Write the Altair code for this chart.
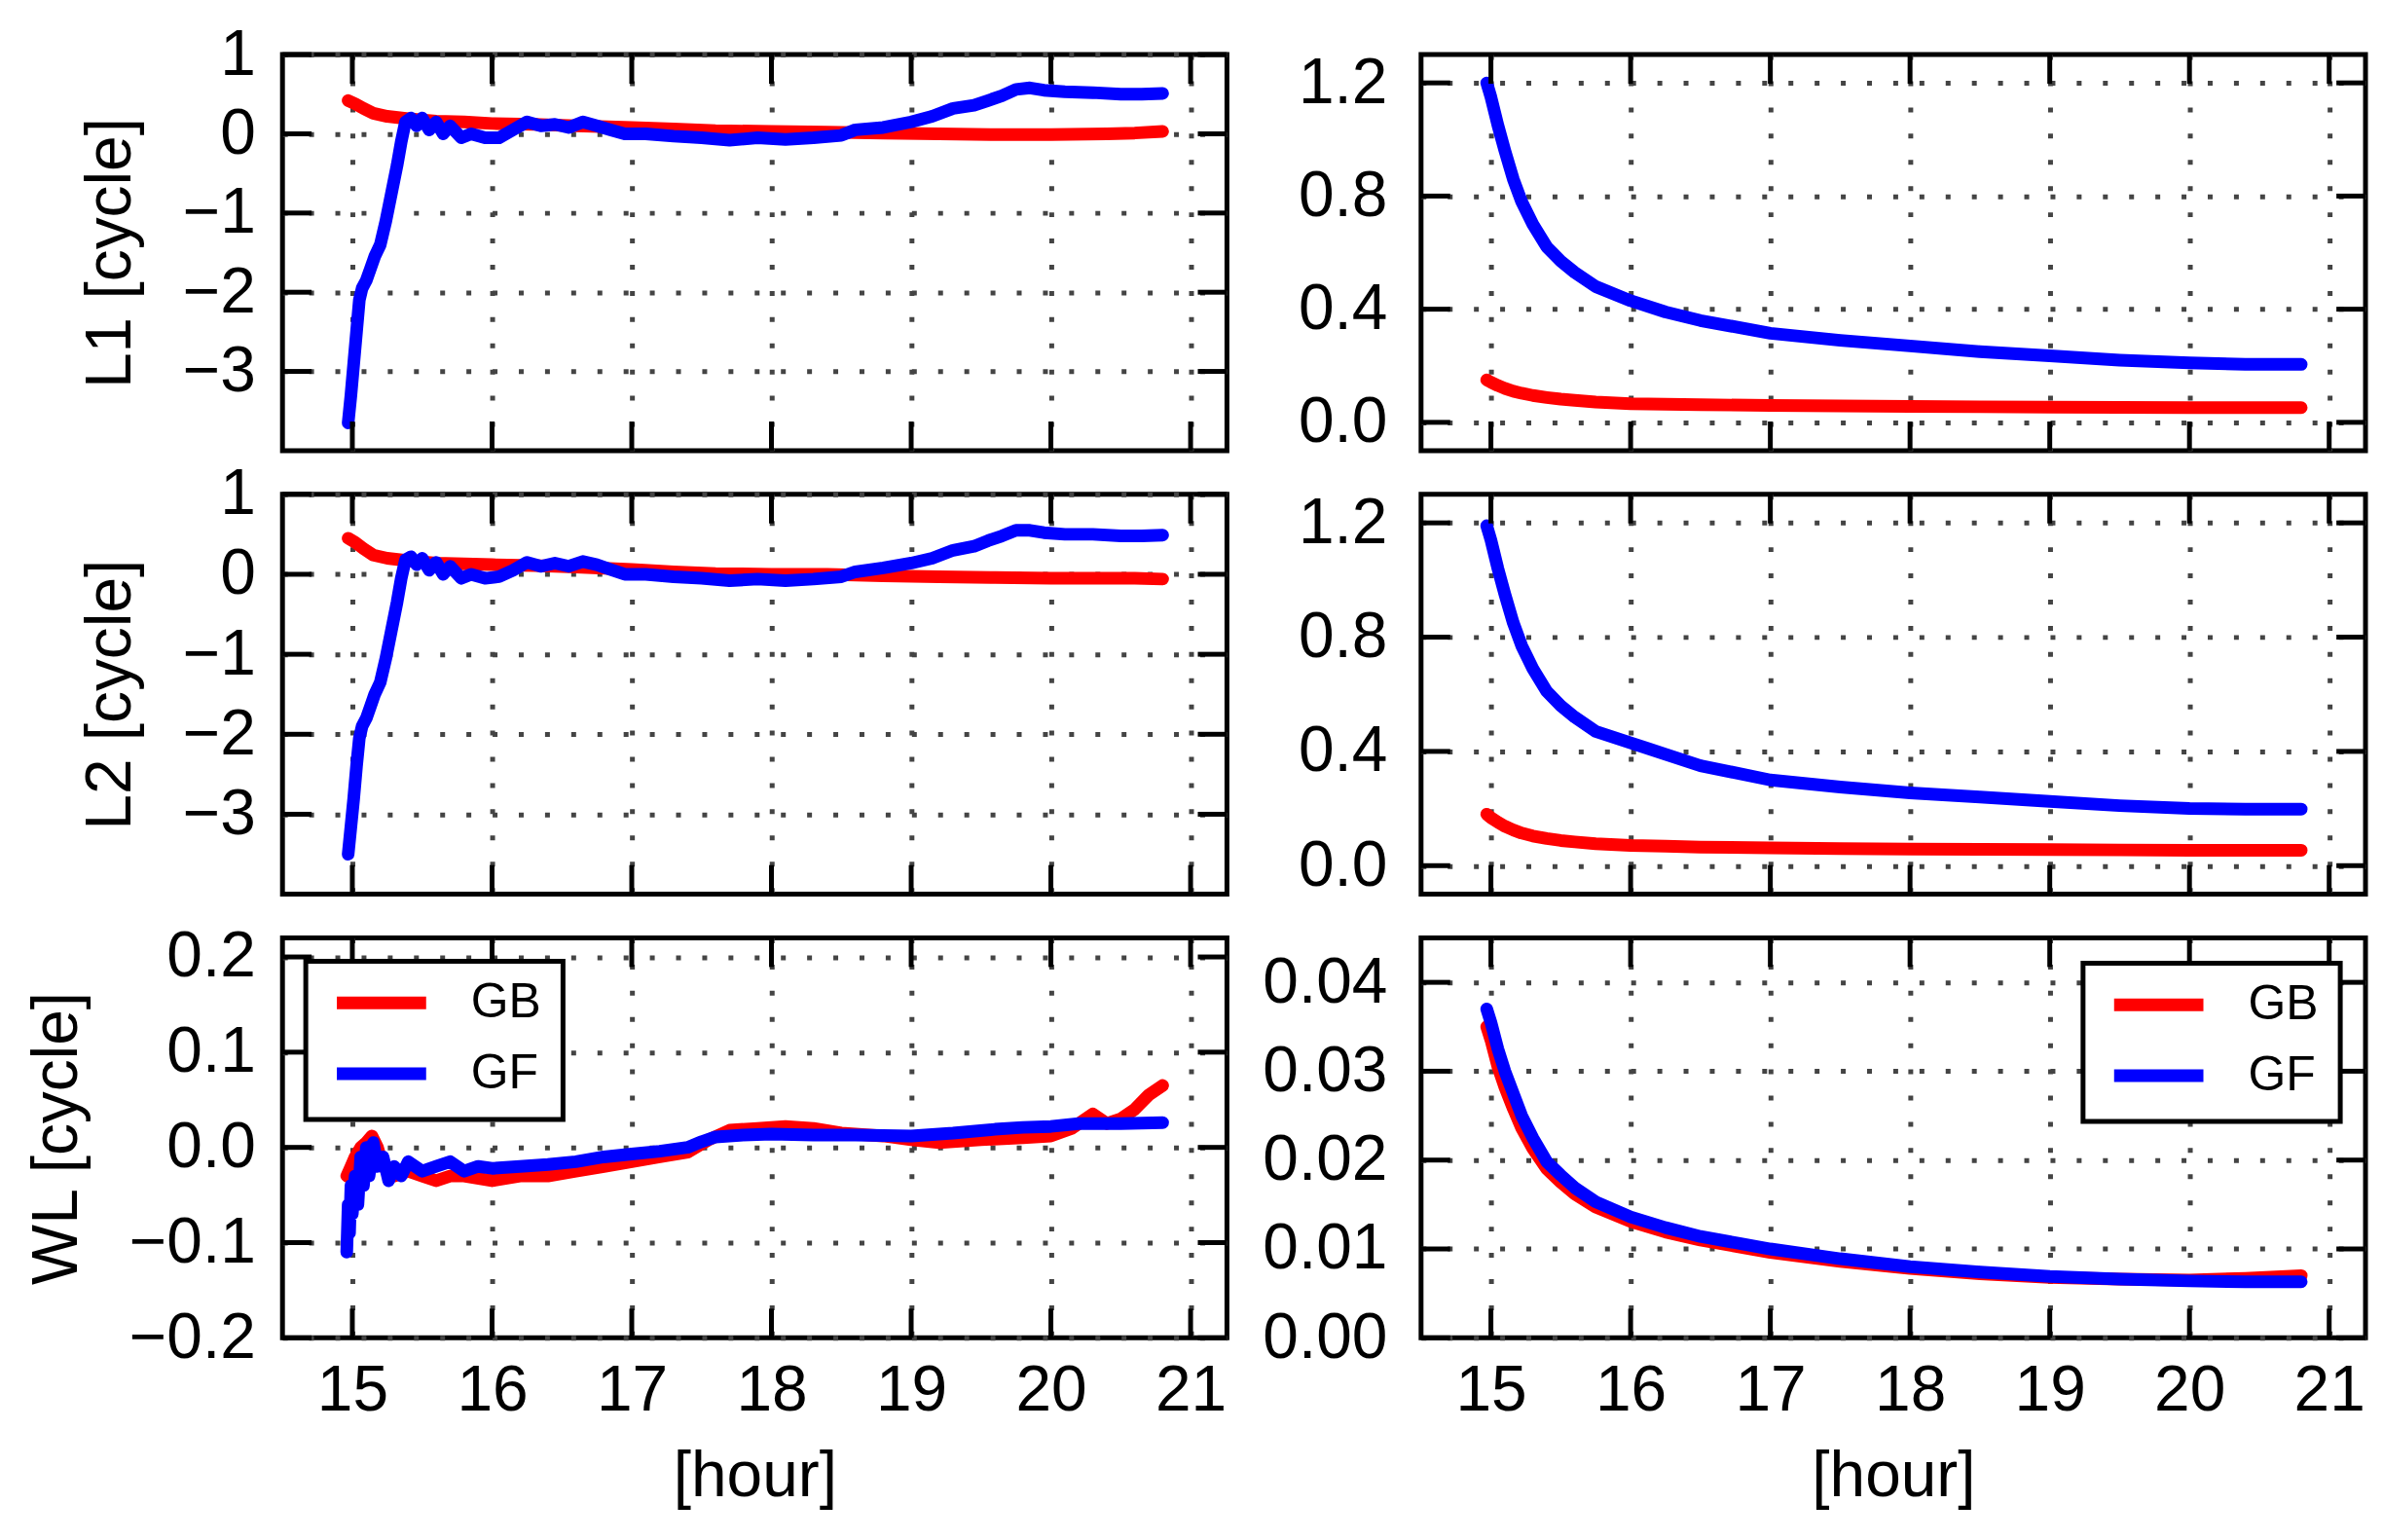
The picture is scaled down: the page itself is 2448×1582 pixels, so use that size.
import altair as alt
import pandas as pd

FONT = "Liberation Sans, Arial, sans-serif"

SERIES = ["GB", "GF"]
COLORS = ["#ff0000", "#0000ff"]
X_TICKS = [15, 16, 17, 18, 19, 20, 21]
X_DOMAIN = [14.5, 21.26]

# ---------------- L1 (left) ----------------
L1_GB_T = [14.97, 15.02, 15.08, 15.15, 15.25, 15.4, 15.6, 15.8, 16.0, 16.3, 16.6, 17.0, 17.3, 17.6, 18.0, 18.4, 18.8, 19.2, 19.6, 20.0, 20.4, 20.6, 20.8]
L1_GB_V = [0.42, 0.38, 0.32, 0.26, 0.22, 0.19, 0.16, 0.15, 0.13, 0.12, 0.10, 0.08, 0.06, 0.04, 0.03, 0.02, 0.01, 0.0, -0.01, -0.01, 0.0, 0.01, 0.03]
L1_GF_T = [14.97, 14.99, 15.01, 15.03, 15.05, 15.07, 15.1, 15.13, 15.16, 15.2, 15.24, 15.28, 15.32, 15.35, 15.38, 15.42, 15.46, 15.5, 15.55, 15.6, 15.65, 15.7, 15.78, 15.85, 15.95, 16.05, 16.15, 16.25, 16.35, 16.45, 16.55, 16.65, 16.75, 16.85, 16.95, 17.1, 17.3, 17.5, 17.7, 17.9, 18.1, 18.3, 18.5, 18.6, 18.8, 19.0, 19.15, 19.3, 19.45, 19.55, 19.65, 19.75, 19.85, 19.95, 20.1, 20.3, 20.5, 20.65, 20.8]
L1_GF_V = [-3.65, -3.3, -2.9, -2.5, -2.1, -1.95, -1.85, -1.7, -1.55, -1.4, -1.1, -0.75, -0.4, -0.1, 0.15, 0.2, 0.1, 0.2, 0.05, 0.15, 0.0, 0.1, -0.05, 0.0, -0.05, -0.05, 0.05, 0.15, 0.1, 0.12, 0.08, 0.15, 0.1, 0.05, 0.0, 0.0, -0.03, -0.05, -0.08, -0.05, -0.07, -0.05, -0.02, 0.05, 0.08, 0.15, 0.22, 0.32, 0.36, 0.42, 0.48, 0.56, 0.58, 0.55, 0.53, 0.52, 0.5, 0.5, 0.51]

# ---------------- L2 (left) ----------------
L2_GB_T = [14.97, 15.02, 15.08, 15.15, 15.25, 15.4, 15.6, 15.8, 16.0, 16.3, 16.6, 17.0, 17.3, 17.6, 18.0, 18.4, 18.8, 19.2, 19.6, 20.0, 20.4, 20.6, 20.8]
L2_GB_V = [0.45, 0.4, 0.32, 0.24, 0.2, 0.17, 0.14, 0.13, 0.12, 0.11, 0.09, 0.06, 0.03, 0.01, 0.0, 0.0, -0.02, -0.03, -0.04, -0.05, -0.05, -0.05, -0.06]
L2_GF_T = [14.97, 14.99, 15.01, 15.03, 15.05, 15.07, 15.1, 15.13, 15.16, 15.2, 15.24, 15.28, 15.32, 15.35, 15.38, 15.42, 15.46, 15.5, 15.55, 15.6, 15.65, 15.7, 15.78, 15.85, 15.95, 16.05, 16.15, 16.25, 16.35, 16.45, 16.55, 16.65, 16.75, 16.85, 16.95, 17.1, 17.3, 17.5, 17.7, 17.9, 18.1, 18.3, 18.5, 18.6, 18.8, 19.0, 19.15, 19.3, 19.45, 19.55, 19.65, 19.75, 19.85, 19.95, 20.1, 20.3, 20.5, 20.65, 20.8]
L2_GF_V = [-3.5, -3.15, -2.8, -2.4, -2.05, -1.9, -1.8, -1.65, -1.5, -1.35, -1.05, -0.7, -0.35, -0.05, 0.18, 0.22, 0.12, 0.2, 0.05, 0.15, 0.0, 0.1, -0.05, 0.0, -0.05, -0.03, 0.05, 0.15, 0.1, 0.14, 0.1, 0.16, 0.12, 0.06, 0.0, 0.0, -0.03, -0.05, -0.08, -0.06, -0.08, -0.06, -0.03, 0.03, 0.08, 0.14, 0.2, 0.3, 0.35, 0.42, 0.48, 0.55, 0.55, 0.52, 0.5, 0.5, 0.48, 0.48, 0.49]

# ---------------- WL (left) ----------------
WL_GB_T = [14.96, 14.99, 15.02, 15.06, 15.1, 15.14, 15.18, 15.22, 15.3, 15.4, 15.5, 15.6, 15.7, 15.8, 16.0, 16.2, 16.4, 16.6, 16.8, 17.0, 17.2, 17.4, 17.55, 17.7, 17.9, 18.1, 18.3, 18.5, 18.8, 19.0, 19.2, 19.5, 19.8, 20.0, 20.15, 20.3, 20.4, 20.5, 20.6, 20.7, 20.8]
WL_GB_V = [-0.03, -0.02, -0.01, 0.0, 0.005, 0.012, 0.0, -0.02, -0.03, -0.025, -0.03, -0.035, -0.03, -0.03, -0.035, -0.03, -0.03, -0.025, -0.02, -0.015, -0.01, -0.005, 0.008, 0.018, 0.02, 0.022, 0.02, 0.015, 0.012, 0.008, 0.005, 0.008, 0.01, 0.012, 0.02, 0.035, 0.025, 0.03, 0.04, 0.055, 0.065]
WL_GF_T = [14.96, 14.97, 14.98, 14.99, 15.0, 15.02, 15.04, 15.06, 15.08, 15.1, 15.12, 15.15, 15.18, 15.22, 15.26, 15.3, 15.35, 15.4, 15.5, 15.6, 15.7, 15.8, 15.9, 16.0, 16.2, 16.4, 16.6, 16.8, 17.0, 17.2, 17.4, 17.5, 17.6, 17.8, 18.0, 18.3, 18.6, 19.0, 19.3, 19.6, 19.8, 20.0, 20.2, 20.5, 20.8]
WL_GF_V = [-0.11, -0.06, -0.09, -0.04, -0.07, -0.03, -0.06, -0.01, -0.04, 0.0, -0.03, 0.005, -0.02, -0.01, -0.035, -0.02, -0.03, -0.015, -0.025, -0.02, -0.015, -0.025, -0.02, -0.022, -0.02, -0.018, -0.015, -0.01, -0.007, -0.004, 0.0, 0.006, 0.011, 0.013, 0.014, 0.013, 0.013, 0.012, 0.015, 0.019, 0.021, 0.022, 0.025, 0.025, 0.026]

# ---------------- right column (smooth decays) ----------------
R_T = [14.97, 15.0, 15.05, 15.1, 15.16, 15.22, 15.3, 15.4, 15.5, 15.6, 15.75, 16.0, 16.25, 16.5, 17.0, 17.5, 18.0, 18.5, 19.0, 19.5, 20.0, 20.4, 20.8]
R1_GF_V = [1.2, 1.15, 1.05, 0.96, 0.86, 0.78, 0.7, 0.62, 0.57, 0.53, 0.48, 0.43, 0.39, 0.36, 0.315, 0.29, 0.27, 0.25, 0.235, 0.22, 0.21, 0.205, 0.205]
R1_GB_V = [0.15, 0.142, 0.13, 0.12, 0.11, 0.103, 0.095, 0.088, 0.082, 0.078, 0.072, 0.066, 0.064, 0.062, 0.06, 0.058, 0.056, 0.055, 0.054, 0.053, 0.052, 0.052, 0.052]
R2_GF_V = [1.19, 1.14, 1.04, 0.95, 0.85, 0.77, 0.69, 0.61, 0.56, 0.52, 0.47, 0.43, 0.39, 0.35, 0.3, 0.275, 0.255, 0.24, 0.225, 0.21, 0.2, 0.198, 0.198]
R2_GB_V = [0.18, 0.168, 0.152, 0.138, 0.125, 0.114, 0.104, 0.095, 0.088, 0.083, 0.077, 0.071, 0.068, 0.065, 0.062, 0.06, 0.058, 0.057, 0.056, 0.055, 0.054, 0.054, 0.054]
R3_GF_V = [0.037, 0.0355, 0.0325, 0.03, 0.0275, 0.025, 0.0225, 0.0198, 0.0183, 0.0169, 0.0153, 0.0136, 0.0124, 0.0114, 0.01, 0.0089, 0.008, 0.0074, 0.0069, 0.0066, 0.0064, 0.0063, 0.0063]
R3_GB_V = [0.035, 0.0335, 0.0305, 0.0282, 0.0258, 0.0236, 0.0213, 0.019, 0.0175, 0.0162, 0.0147, 0.0131, 0.0119, 0.011, 0.0096, 0.0086, 0.0078, 0.0072, 0.0068, 0.0066, 0.0065, 0.0067, 0.007]

L_YTICKS = [-3, -2, -1, 0, 1]
WL_YTICKS = [-0.2, -0.1, 0.0, 0.1, 0.2]
R_YTICKS = [0.0, 0.4, 0.8, 1.2]
RWL_YTICKS = [0.0, 0.01, 0.02, 0.03, 0.04]

W = 973
ROW_H = [408, 412, 412]
TICK = 30
FS = 66
TOP_GAP = 35
RIGHT_COL_LEFT = 170


def panel(gb_t, gb_v, gf_t, gf_v, ydom, yticks, yfmt, ytitle, bottom, legend_orient, label_pad, right_col, H):
    df = pd.DataFrame({
        "t": list(gb_t) + list(gf_t),
        "v": list(gb_v) + list(gf_v),
        "s": ["GB"] * len(gb_t) + ["GF"] * len(gf_t),
    })
    xs = alt.Scale(domain=X_DOMAIN, nice=False, zero=False)
    ys = alt.Scale(domain=ydom, nice=False, zero=False)
    if bottom:
        xaxis = alt.Axis(values=X_TICKS, format="d", grid=True, ticks=False, domain=False,
                         labels=True, labelPadding=22, titlePadding=24, labelFlush=False)
        xtitle = "[hour]"
    else:
        xaxis = alt.Axis(values=X_TICKS, grid=True, ticks=False, domain=False, labels=False)
        xtitle = None
    yaxis = alt.Axis(values=yticks, format=yfmt, grid=True, ticks=False, domain=False,
                     labelPadding=label_pad, titlePadding=40, labelFlush=False)
    if legend_orient:
        legend = alt.Legend(orient=legend_orient, title=None,
                            offset=24 if legend_orient == "top-left" else 26,
                            symbolType="stroke", symbolSize=8464, symbolStrokeWidth=13,
                            clipHeight=42, labelFontSize=50, labelFont=FONT, padding=22,
                            symbolOffset=3.5, labelOffset=39.5, rowPadding=23,
                            fillColor="white", strokeColor="black", labelColor="black")
    else:
        legend = None
    color = alt.Color("s:N", scale=alt.Scale(domain=SERIES, range=COLORS), legend=legend)

    lines = alt.Chart(df).mark_line(strokeWidth=13, strokeCap="round", strokeJoin="round").encode(
        x=alt.X("t:Q", scale=xs, axis=xaxis, title=xtitle),
        y=alt.Y("v:Q", scale=ys, axis=yaxis, title=ytitle),
        color=color,
        order=alt.Order("t:Q"),
    )
    ydf = pd.DataFrame({"v": list(yticks)})
    xdf = pd.DataFrame({"t": X_TICKS})
    yl = alt.Chart(ydf).mark_rule(color="black", strokeWidth=5).encode(
        y=alt.Y("v:Q", scale=ys, axis=yaxis, title=ytitle), x=alt.value(0), x2=alt.value(TICK))
    yr = alt.Chart(ydf).mark_rule(color="black", strokeWidth=5).encode(
        y=alt.Y("v:Q", scale=ys, axis=yaxis, title=ytitle), x=alt.value(W - TICK), x2=alt.value(W))
    xb = alt.Chart(xdf).mark_rule(color="black", strokeWidth=5).encode(
        x=alt.X("t:Q", scale=xs, axis=xaxis, title=xtitle), y=alt.value(H - TICK), y2=alt.value(H))
    xt = alt.Chart(xdf).mark_rule(color="black", strokeWidth=5).encode(
        x=alt.X("t:Q", scale=xs, axis=xaxis, title=xtitle), y=alt.value(0), y2=alt.value(TICK))
    # invisible spacer that fixes the room reserved above (and left of) each panel
    spacer = alt.Chart(xdf.head(1)).mark_rule(color="white", opacity=0, strokeWidth=1).encode(
        x=alt.value(-RIGHT_COL_LEFT if right_col else 0), x2=alt.value(0),
        y=alt.value(-TOP_GAP), y2=alt.value(0))
    return alt.layer(lines, yl, yr, xb, xt, spacer).properties(width=W, height=H)


p1 = panel(L1_GB_T, L1_GB_V, L1_GF_T, L1_GF_V, [-4, 1], L_YTICKS, "d", "L1 [cycle]", False, None, 28, False, ROW_H[0])
p2 = panel(R_T, R1_GB_V, R_T, R1_GF_V, [-0.1, 1.3], R_YTICKS, ".1f", None, False, None, 35, True, ROW_H[0])
p3 = panel(L2_GB_T, L2_GB_V, L2_GF_T, L2_GF_V, [-4, 1], L_YTICKS, "d", "L2 [cycle]", False, None, 28, False, ROW_H[1])
p4 = panel(R_T, R2_GB_V, R_T, R2_GF_V, [-0.1, 1.3], R_YTICKS, ".1f", None, False, None, 35, True, ROW_H[1])
p5 = panel(WL_GB_T, WL_GB_V, WL_GF_T, WL_GF_V, [-0.2, 0.22], WL_YTICKS, ".1f", "WL [cycle]", True, "top-left", 28, False, ROW_H[2])
p6 = panel(R_T, R3_GB_V, R_T, R3_GF_V, [0.0, 0.045], RWL_YTICKS, ".2f", None, True, "top-right", 35, True, ROW_H[2])

chart = alt.concat(p1, p2, p3, p4, p5, p6, columns=2, spacing={"row": 0, "column": 22}).resolve_scale(
    color="independent"
).resolve_legend(color="independent").properties(
    padding={"left": 15, "top": 8, "right": 5, "bottom": 5}
).configure(font=FONT, background="white").configure_view(
    stroke="black", strokeWidth=5
).configure_axis(
    labelFont=FONT, titleFont=FONT, labelFontSize=FS, titleFontSize=FS,
    titleFontWeight="normal", labelColor="black", titleColor="black",
    gridColor="#444444", gridDash=[5, 22], gridWidth=5, gridOpacity=1,
).configure_legend(strokeColor="black", strokeWidth=5)

chart.save("out.html", embed_options={"renderer": "svg", "actions": False})
